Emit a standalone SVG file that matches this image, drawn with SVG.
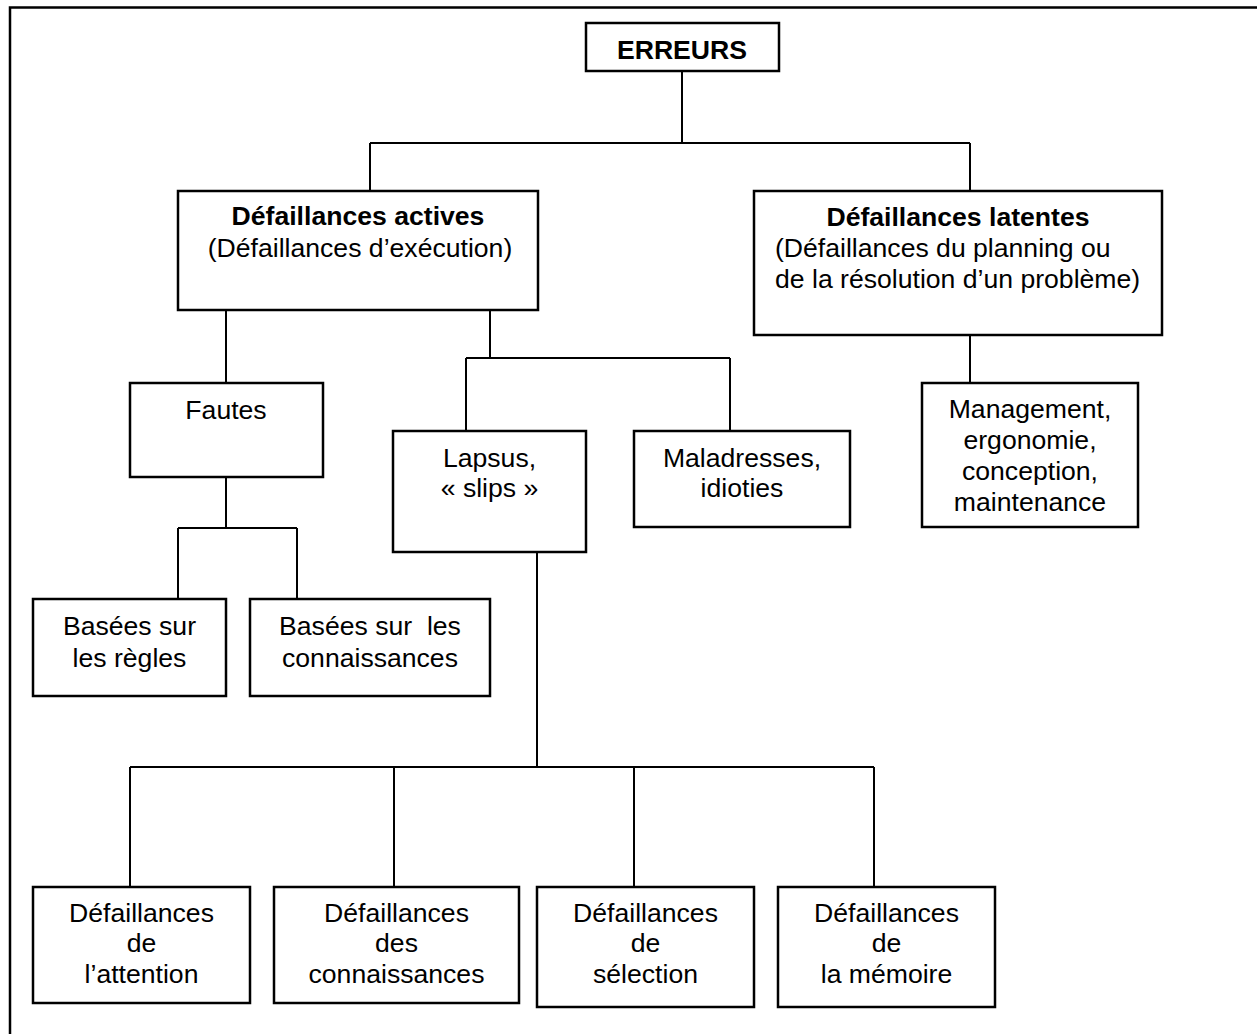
<svg xmlns="http://www.w3.org/2000/svg" width="1257" height="1034" viewBox="0 0 1257 1034">
<style>
.box{fill:#fff;stroke:#000;stroke-width:2.5}
.ln{stroke:#000;stroke-width:2;fill:none}
text{font-family:"Liberation Sans",Arial,sans-serif;font-size:26.6px;fill:#000}
.c{text-anchor:middle}
.b{font-weight:bold}
</style>
<rect x="0" y="0" width="1257" height="1034" fill="#fff"/>
<rect id="frame" x="10" y="7.5" width="1270" height="1060" fill="none" stroke="#000" stroke-width="2.5"/>
<g id="connectors" class="ln">
<path d="M682 71V143M370 143H970M370 143V191M970 143V191"/>
<path d="M226 310V383M490 310V358M466 358H730M466 358V431M730 358V431"/>
<path d="M970 335V383"/>
<path d="M226 477V528M178 528H297M178 528V599M297 528V599"/>
<path d="M537 552V767M130 767H874M130 767V887M394 767V887M634 767V887M874 767V887"/>
</g>
<g id="erreurs"><rect class="box" x="586" y="23" width="193" height="48"/><text class="c b" x="682" y="59">ERREURS</text></g>
<g id="actives"><rect class="box" x="178" y="191" width="360" height="119"/><text class="c b" x="358" y="225">Défaillances actives</text><text class="c" x="360" y="257">(Défaillances d’exécution)</text></g>
<g id="latentes"><rect class="box" x="754" y="191" width="408" height="144"/><text class="c b" x="958" y="226">Défaillances latentes</text><text x="775" y="257">(Défaillances du planning ou</text><text x="775" y="288">de la résolution d’un problème)</text></g>
<g id="management"><rect class="box" x="922" y="383" width="216" height="144"/><text class="c" x="1030" y="418">Management,</text><text class="c" x="1030" y="449">ergonomie,</text><text class="c" x="1030" y="480">conception,</text><text class="c" x="1030" y="511">maintenance</text></g>
<g id="fautes"><rect class="box" x="130" y="383" width="193" height="94"/><text class="c" x="226" y="419">Fautes</text></g>
<g id="regles"><rect class="box" x="33" y="599" width="193" height="97"/><text class="c" x="129.5" y="635">Basées sur</text><text class="c" x="129.5" y="667">les règles</text></g>
<g id="connaissances"><rect class="box" x="250" y="599" width="240" height="97"/><text class="c" x="370" y="635" xml:space="preserve">Basées sur  les</text><text class="c" x="370" y="667">connaissances</text></g>
<g id="lapsus"><rect class="box" x="393" y="431" width="193" height="121"/><text class="c" x="489.5" y="467">Lapsus,</text><text class="c" x="489.5" y="497">« slips »</text></g>
<g id="maladresses"><rect class="box" x="634" y="431" width="216" height="96"/><text class="c" x="742" y="467">Maladresses,</text><text class="c" x="742" y="497">idioties</text></g>
<g id="attention"><rect class="box" x="33" y="887" width="217" height="116"/><text class="c" x="141.5" y="922">Défaillances</text><text class="c" x="141.5" y="952">de</text><text class="c" x="141.5" y="983">l’attention</text></g>
<g id="desconnaissances"><rect class="box" x="274" y="887" width="245" height="116"/><text class="c" x="396.5" y="922">Défaillances</text><text class="c" x="396.5" y="952">des</text><text class="c" x="396.5" y="983">connaissances</text></g>
<g id="selection"><rect class="box" x="537" y="887" width="217" height="120"/><text class="c" x="645.5" y="922">Défaillances</text><text class="c" x="645.5" y="952">de</text><text class="c" x="645.5" y="983">sélection</text></g>
<g id="memoire"><rect class="box" x="778" y="887" width="217" height="120"/><text class="c" x="886.5" y="922">Défaillances</text><text class="c" x="886.5" y="952">de</text><text class="c" x="886.5" y="983">la mémoire</text></g>
</svg>
